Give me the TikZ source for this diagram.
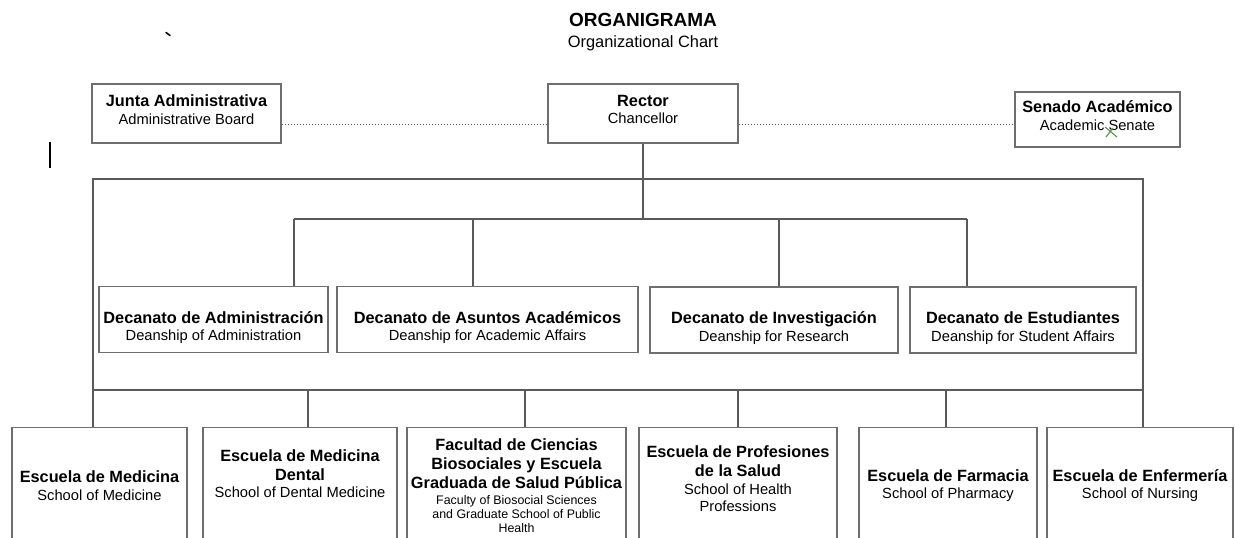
\documentclass[tikz,border=0pt]{standalone}
\usepackage{fontspec}
\setmainfont{Liberation Sans}

\definecolor{boxgray}{HTML}{6E6E6E}
\definecolor{linegray}{HTML}{5A5A5A}
\definecolor{markgreen}{HTML}{5E9A48}

\newcommand{\unithead}{\fontsize{16.3}{19}\selectfont\bfseries}
\newcommand{\unitsmall}{\fontsize{12.4}{14}\selectfont}
\newcommand{\deanhead}{\unithead\rule{0pt}{28pt}}

\begin{document}
\begin{tikzpicture}[
  x = 1pt, y = -1pt,
  unit/.style = {draw = boxgray, line width = 1.2pt, align = center, inner sep = 2pt,
                 font = \fontsize{14.7}{17.5}\selectfont},
  lift/.style = {execute at end node = {\rule[-#1]{0pt}{0pt}}},
  board/.style = {unit, minimum height = 59pt, lift = 8pt},
  dean/.style = {unit, minimum height = 66pt},
  school/.style = {unit, anchor = north, minimum height = 116pt},
  link/.style = {draw = linegray, line width = 1.2pt},
  side/.style = {draw = linegray, line width = 1pt, dotted},
  ]
  \useasboundingbox (0,0) rectangle (1235,538);
  \clip (0,0) rectangle (1235,538);

  % heading
  \node[anchor = base, font = \fontsize{19}{22}\selectfont\bfseries] (title) at (643,26) {ORGANIGRAMA};
  \node[anchor = base, font = \fontsize{16.4}{19}\selectfont] (subtitle) at (643,47) {Organizational Chart};

  % top level
  \node[board, minimum width = 189pt] (junta) at (186.5,113.5)
    {{\unithead Junta Administrativa}\\Administrative Board};
  \node[board, minimum width = 190pt] (rector) at (643,113.5)
    {{\unithead Rector}\\Chancellor};
  \node[board, minimum width = 165pt, minimum height = 55pt] (senado) at (1097.5,119.5)
    {{\unithead Senado Académico}\\Academic Senate};

  % deanships
  \node[dean, minimum width = 229pt] (dadm) at (213.5,319.5)
    {{\deanhead Decanato de Administración}\\Deanship of Administration};
  \node[dean, minimum width = 301pt] (dacad) at (487.5,319.5)
    {{\deanhead Decanato de Asuntos Académicos}\\Deanship for Academic Affairs};
  \node[dean, minimum width = 248pt] (dinv) at (774,320)
    {{\deanhead Decanato de Investigación}\\Deanship for Research};
  \node[dean, minimum width = 226pt] (dest) at (1023,320)
    {{\deanhead Decanato de Estudiantes}\\Deanship for Student Affairs};

  % schools
  \node[school, minimum width = 175pt] (emed) at (99.5,427)
    {{\unithead Escuela de Medicina}\\School of Medicine};
  \node[school, minimum width = 194pt, lift = 24pt] (edent) at (300,427)
    {{\unithead Escuela de Medicina}\\[1.5pt]{\unithead Dental}\\School of Dental Medicine};
  \node[school, minimum width = 219pt] (fcb) at (516.5,427)
    {{\unithead Facultad de Ciencias}\\[1.5pt]{\unithead Biosociales y Escuela}\\[1.5pt]%
     {\unithead Graduada de Salud Pública}\\[-1.5pt]{\unitsmall Faculty of Biosocial Sciences}\\[-3.5pt]%
     {\unitsmall and Graduate School of Public}\\[-3.5pt]{\unitsmall Health}};
  \node[school, minimum width = 198pt, lift = 14pt] (eps) at (738,427)
    {{\unithead Escuela de Profesiones}\\[1.5pt]{\unithead de la Salud}\\School of Health\\Professions};
  \node[school, minimum width = 178pt] (efar) at (948,427)
    {{\unithead Escuela de Farmacia}\\School of Pharmacy};
  \node[school, minimum width = 186pt] (eenf) at (1140,427)
    {{\unithead Escuela de Enfermería}\\School of Nursing};

  % advisory bodies
  \draw[side] (junta.east |- 0,124) -- (rector.west |- 0,124);
  \draw[side] (rector.east |- 0,124) -- (senado.west |- 0,124);

  % rector to deanships
  \draw[link] (rector.south) -- (rector.south |- 0,219);
  \draw[link] (294,219) -- (967,219);
  \foreach \x/\d in {294/dadm, 473/dacad, 779/dinv, 967/dest}
    \draw[link] (\x,219) -- (\d.north -| \x,0);

  % frame down to schools
  \draw[link] (emed.north -| 93,0) -- (93,179) -- (1143,179) -- (eenf.north -| 1143,0);
  \draw[link] (93,390) -- (1143,390);
  \foreach \x/\s in {308/edent, 525/fcb, 738/eps, 946/efar}
    \draw[link] (\x,390) -- (\s.north -| \x,0);

  % stray marks
  \draw[line width = 1.2pt] (50,142) -- (50,168);
  \draw[line width = 1.6pt, line cap = round] (166,32.5) -- (170,35.5);
  \draw[markgreen, line width = 1.2pt] (1105,127) -- (1117,137) (1106,137) -- (1113,128);
\end{tikzpicture}
\end{document}
